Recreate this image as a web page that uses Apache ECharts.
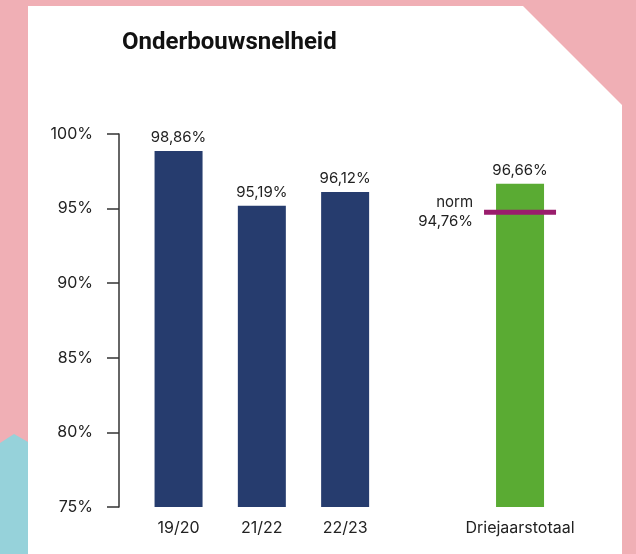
<!DOCTYPE html>
<html>
<head>
<meta charset="utf-8">
<script src="https://cdn.jsdelivr.net/npm/echarts@6/dist/echarts.min.js"></script>
<style>
  html, body { margin: 0; padding: 0; background: #f0afb5; }
  #chart-box { width: 636px; height: 554px; }
</style>
</head>
<body>
<div id="chart-box"></div>
<script>
// gegevens
var categories = ['19/20', '21/22', '22/23', 'Driejaarstotaal'];
var values = [98.86, 95.19, 96.12, 96.66];
var slots = [0, 1, 2, 4.1];          // plaats op de x-as (gat voor totaal)
var normValue = 94.76;
var yTicks = [75, 80, 85, 90, 95, 100];

function pct(v) {
    return v.toFixed(2).replace('.', ',') + '%';
}

var navy = '#263c6e', green = '#5aab33', norm = '#9a1d6c';

var barData = values.map(function (v, i) {
    return {
        value: [slots[i], v],
        itemStyle: { color: i === 3 ? green : navy }
    };
});

var myChart = echarts.init(document.getElementById('chart-box'));

var option = {
    backgroundColor: '#f0afb5',
    textStyle: { fontFamily: 'Inter, Roboto, sans-serif' },
    graphic: [
        {
            type: 'polygon', z: -10, silent: true,
            shape: { points: [[28, 6], [523, 6], [622, 105], [622, 554], [28, 554]] },
            style: { fill: '#ffffff' }
        },
        {
            type: 'polygon', z: -10, silent: true,
            shape: { points: [[0, 443], [14, 434], [28, 442], [28, 554], [0, 554]] },
            style: { fill: '#96d2da' }
        }
    ],
    title: {
        text: 'Onderbouwsnelheid',
        left: 117,
        top: 26,
        textStyle: {
            fontFamily: 'Roboto, sans-serif',
            fontWeight: 'bold',
            fontSize: 24,
            color: '#111'
        }
    },
    grid: { left: 119, top: 134, width: 476, height: 373 },
    xAxis: {
        type: 'value',
        min: -0.715,
        max: 5.0,
        axisLine: { show: false },
        axisTick: { show: false },
        splitLine: { show: false },
        axisLabel: {
            customValues: slots,
            margin: 13,
            fontSize: 16,
            color: '#222',
            formatter: function (v) {
                var i = slots.indexOf(v);
                return i >= 0 ? categories[i] : '';
            }
        }
    },
    yAxis: {
        type: 'value',
        min: yTicks[0],
        max: yTicks[yTicks.length - 1],
        interval: 5,
        axisLine: { show: true, onZero: false, lineStyle: { color: '#333', width: 1.5 } },
        axisTick: { show: true, length: 12, lineStyle: { color: '#333', width: 1.5 } },
        splitLine: { show: false },
        axisLabel: {
            margin: 26,
            fontSize: 16,
            color: '#222',
            formatter: '{value}%'
        }
    },
    series: [
        {
            type: 'bar',
            barWidth: 48,
            data: barData,
            label: {
                show: true,
                position: 'top',
                distance: 6,
                fontSize: 15,
                color: '#222',
                formatter: function (p) { return pct(p.value[1]); }
            }
        },
        {
            type: 'scatter',
            symbol: 'rect',
            symbolSize: [72, 5],
            z: 5,
            itemStyle: { color: norm, opacity: 1 },
            data: [[slots[3], normValue]],
            label: {
                show: true,
                position: 'left',
                distance: 11,
                align: 'right',
                fontSize: 15,
                lineHeight: 19,
                color: '#222',
                formatter: function (p) { return 'norm\n' + pct(p.value[1]); }
            }
        }
    ]
};

myChart.setOption(option);
</script>
</body>
</html>
